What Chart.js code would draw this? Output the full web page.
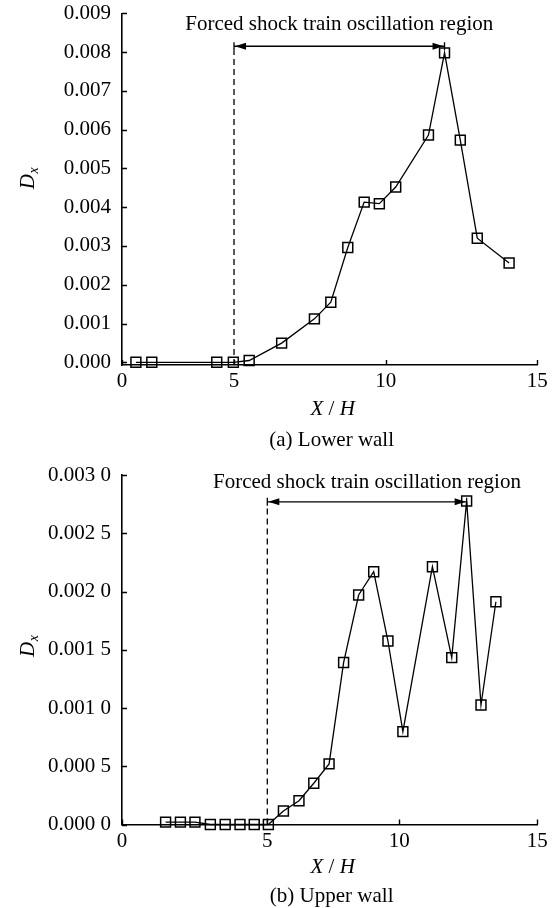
<!DOCTYPE html>
<html>
<head>
<meta charset="utf-8">
<title>Shock train oscillation intensity</title>
<script src="https://cdn.jsdelivr.net/npm/chart.js@4.4.1/dist/chart.umd.min.js"></script>
<style>
  html, body { margin: 0; padding: 0; background: #fff; }
  #wrap { position: relative; width: 560px; height: 908px; overflow: hidden; }
  canvas { position: absolute; left: 0; }
  #lower { top: 0; }
  #upper { top: 450px; }
</style>
</head>
<body>
<div id="wrap">
  <canvas id="lower" width="560" height="450"></canvas>
  <canvas id="upper" width="560" height="458"></canvas>
</div>
<script>
// ---- data: streamwise position X/H and oscillation intensity D_x ----
const lowerX = [0.62, 1.33, 4.23, 4.97, 5.50, 6.57, 7.65, 8.19, 8.75, 9.29, 9.79, 10.33, 11.41, 11.94, 12.46, 13.02, 14.07];
const lowerD = [0, 0, 0, 0, 0.000046, 0.000495, 0.00112, 0.00155, 0.00296, 0.00413, 0.00409, 0.00452, 0.00586, 0.00798, 0.00573, 0.00320, 0.00256];

const upperX = [1.50, 2.01, 2.51, 3.04, 3.55, 4.06, 4.55, 5.04, 5.61, 6.20, 6.76, 7.34, 7.89, 8.46, 9.03, 9.57, 10.13, 11.20, 11.90, 12.44, 12.96, 13.50];
const upperD = [0.00002, 0.00002, 0.00002, 0, 0, 0, 0, 0, 0.000116, 0.000204, 0.000354, 0.00052, 0.00139, 0.00197, 0.00217, 0.001575, 0.000797, 0.002213, 0.001432, 0.002777, 0.001026, 0.001912];

// ---- ticks ----
const xTickValues = [0, 5, 10, 15];
const xTickLabels = ['0', '5', '10', '15'];
const lowerTickValues = [0, 0.001, 0.002, 0.003, 0.004, 0.005, 0.006, 0.007, 0.008, 0.009];
const lowerTickLabels = ['0.000', '0.001', '0.002', '0.003', '0.004', '0.005', '0.006', '0.007', '0.008', '0.009'];
const upperTickValues = [0, 0.0005, 0.001, 0.0015, 0.002, 0.0025, 0.003];
const upperTickLabels = ['0.000 0', '0.000 5', '0.001 0', '0.001 5', '0.002 0', '0.002 5', '0.003 0'];

// ---- forced oscillation region (start X/H, end X/H) and arrow level ----
const lowerRegion = [5, 11.94];
const lowerArrowLevel = 0.00815;
const upperRegion = [5, 12.44];
const upperArrowLevel = 0.00277;
const regionText = 'Forced shock train oscillation region';
const lowerCaption = '(a) Lower wall';
const upperCaption = '(b) Upper wall';

const SERIF = '"Liberation Serif", "Times New Roman", serif';
Chart.defaults.font.family = SERIF;
Chart.defaults.font.size = 21;
Chart.defaults.color = '#000';

// Linear axis whose tick positions follow a piecewise mapping (value -> fraction of axis length)
class PiecewiseLinearScale extends Chart.LinearScale {
  _toFraction(v) {
    const s = this.options.stops;
    let i = 1;
    while (i < s.length - 1 && v > s[i][0]) i++;
    const [v0, f0] = s[i - 1];
    const [v1, f1] = s[i];
    return f0 + (v - v0) / (v1 - v0) * (f1 - f0);
  }
  _fromFraction(f) {
    const s = this.options.stops;
    let i = 1;
    while (i < s.length - 1 && f > s[i][1]) i++;
    const [v0, f0] = s[i - 1];
    const [v1, f1] = s[i];
    return v0 + (f - f0) / (f1 - f0) * (v1 - v0);
  }
  getPixelForValue(value) {
    if (value === null || value === undefined || isNaN(value)) return NaN;
    return this.getPixelForDecimal(this._toFraction(value));
  }
  getValueForPixel(pixel) {
    return this._fromFraction(this.getDecimalForPixel(pixel));
  }
}
PiecewiseLinearScale.id = 'piecewiseLinear';
PiecewiseLinearScale.defaults = Chart.LinearScale.defaults;
Chart.register(PiecewiseLinearScale);

function drawParts(ctx, parts, cx, baseline) {
  let total = 0;
  parts.forEach(p => { ctx.font = p.font; p.w = ctx.measureText(p.text).width; total += p.w; });
  let x = cx - total / 2;
  ctx.textAlign = 'left';
  ctx.textBaseline = 'alphabetic';
  parts.forEach(p => { ctx.font = p.font; ctx.fillText(p.text, x, baseline + (p.dy || 0)); x += p.w; });
}

// Inward tick marks, region marker with arrow, axis titles and caption
const decorations = {
  id: 'decorations',
  afterDraw(chart, args, o) {
    const { ctx, chartArea: a, scales: { x, y } } = chart;
    ctx.save();
    ctx.strokeStyle = '#000';
    ctx.fillStyle = '#000';

    // tick marks pointing into the plot
    ctx.lineWidth = 1.4;
    ctx.beginPath();
    x.ticks.forEach(t => {
      const px = Math.round(x.getPixelForValue(t.value)) + 0.5;
      ctx.moveTo(px, a.bottom);
      ctx.lineTo(px, a.bottom - 5);
    });
    y.ticks.forEach(t => {
      const py = Math.round(y.getPixelForValue(t.value)) + 0.5;
      ctx.moveTo(a.left, py);
      ctx.lineTo(a.left + 5, py);
    });
    ctx.stroke();

    // region marker
    const xa = x.getPixelForValue(o.region[0]);
    const xb = x.getPixelForValue(o.region[1]);
    const ya = y.getPixelForValue(o.arrowLevel);
    ctx.lineWidth = 1.3;
    ctx.setLineDash([6, 4]);
    ctx.beginPath();
    ctx.moveTo(xa, a.bottom);
    ctx.lineTo(xa, ya + 4);
    ctx.stroke();
    ctx.setLineDash([]);
    ctx.beginPath();
    ctx.moveTo(xa, ya - 4); ctx.lineTo(xa, ya + 4);
    ctx.moveTo(xb, ya - 4); ctx.lineTo(xb, ya + 4);
    ctx.moveTo(xa, ya); ctx.lineTo(xb, ya);
    ctx.stroke();
    const head = 11, hw = 3.5;
    ctx.beginPath();
    ctx.moveTo(xa + 1, ya); ctx.lineTo(xa + 1 + head, ya - hw); ctx.lineTo(xa + 1 + head, ya + hw); ctx.closePath();
    ctx.moveTo(xb - 1, ya); ctx.lineTo(xb - 1 - head, ya - hw); ctx.lineTo(xb - 1 - head, ya + hw); ctx.closePath();
    ctx.fill();

    ctx.font = '21px ' + SERIF;
    ctx.textAlign = 'center';
    ctx.textBaseline = 'alphabetic';
    ctx.fillText(o.text, (xa + xb) / 2, ya - o.textGap);

    // x-axis title  X / H
    const cx = (a.left + a.right) / 2;
    drawParts(ctx, [
      { text: 'X', font: 'italic 21px ' + SERIF },
      { text: ' / ', font: '21px ' + SERIF },
      { text: 'H', font: 'italic 21px ' + SERIF }
    ], cx + 3, a.bottom + o.xTitleGap);

    // y-axis title  D_x (rotated)
    ctx.save();
    ctx.translate(o.yTitleX, a.top + o.yTitleFrac * (a.bottom - a.top));
    ctx.rotate(-Math.PI / 2);
    ctx.textAlign = 'left';
    ctx.font = 'italic 21px ' + SERIF;
    const dw = ctx.measureText('D').width;
    ctx.font = 'italic 14px ' + SERIF;
    const xw = ctx.measureText('x').width;
    const start = -(dw + xw) / 2;
    ctx.font = 'italic 21px ' + SERIF;
    ctx.fillText('D', start, 0);
    ctx.font = 'italic 14px ' + SERIF;
    ctx.fillText('x', start + dw + 0.5, 4);
    ctx.restore();

    // caption
    ctx.font = '21px ' + SERIF;
    ctx.textAlign = 'center';
    ctx.fillText(o.caption, cx + 2, a.bottom + o.captionGap);

    ctx.restore();
  }
};

function makeChart(id, xs, ds, cfg) {
  const points = xs.map((v, i) => ({ x: v, y: ds[i] }));
  return new Chart(document.getElementById(id), {
    type: 'line',
    data: {
      datasets: [{
        data: points,
        borderColor: '#000',
        borderWidth: 1.3,
        tension: 0,
        pointStyle: 'rect',
        pointRadius: 7,
        pointHoverRadius: 7,
        pointBorderWidth: 1.5,
        pointBorderColor: '#000',
        pointBackgroundColor: 'rgba(0,0,0,0)',
        clip: false
      }]
    },
    options: {
      responsive: false,
      animation: false,
      devicePixelRatio: 1,
      layout: { autoPadding: false, padding: { top: cfg.padTop, right: 22.7, left: 0, bottom: 0 } },
      plugins: {
        legend: { display: false },
        tooltip: { enabled: false },
        decorations: {
          region: cfg.region,
          arrowLevel: cfg.arrowLevel,
          text: regionText,
          textGap: cfg.textGap,
          caption: cfg.caption,
          xTitleGap: cfg.xTitleGap,
          captionGap: cfg.captionGap,
          yTitleX: 34,
          yTitleFrac: cfg.yTitleFrac
        }
      },
      scales: {
        x: {
          type: 'piecewiseLinear',
          stops: cfg.stops,
          min: 0,
          max: 15,
          grid: { display: false, drawTicks: false },
          border: { display: true, color: '#000', width: 1.6 },
          ticks: {
            autoSkip: false,
            maxRotation: 0,
            padding: 4,
            callback: (v, i) => xTickLabels[i]
          },
          afterBuildTicks: s => { s.ticks = xTickValues.map(v => ({ value: v })); },
          afterFit: s => { s.height = cfg.xAxisHeight; s.paddingLeft = 0; s.paddingRight = 0; }
        },
        y: {
          min: cfg.yMin,
          max: cfg.yMax,
          grid: { display: false, drawTicks: false },
          border: { display: true, color: '#000', width: 1.6 },
          ticks: {
            autoSkip: false,
            padding: 11,
            callback: (v, i) => cfg.yLabels[i]
          },
          afterBuildTicks: s => { s.ticks = cfg.yValues.map(v => ({ value: v })); },
          afterFit: s => { s.width = 122; s.paddingTop = 0; s.paddingBottom = 0; }
        }
      }
    },
    plugins: [decorations]
  });
}

makeChart('lower', lowerX, lowerD, {
  padTop: 13.3,
  xAxisHeight: 85,
  yMin: -0.00007,
  yMax: 0.009,
  yValues: lowerTickValues,
  yLabels: lowerTickLabels,
  stops: [[0, 0], [5, 0.2697], [10, 0.635], [15, 1]],
  region: lowerRegion,
  arrowLevel: lowerArrowLevel,
  textGap: 16,
  caption: lowerCaption,
  xTitleGap: 49.5,
  captionGap: 81,
  yTitleFrac: 0.47
});

makeChart('upper', upperX, upperD, {
  padTop: 25,
  xAxisHeight: 83.5,
  yMin: 0,
  yMax: 0.003,
  yValues: upperTickValues,
  yLabels: upperTickLabels,
  stops: [[0, 0], [5, 0.3499], [10, 0.6677], [15, 1]],
  region: upperRegion,
  arrowLevel: upperArrowLevel,
  textGap: 14,
  caption: upperCaption,
  xTitleGap: 48.5,
  captionGap: 77,
  yTitleFrac: 0.49
});
</script>
</body>
</html>
